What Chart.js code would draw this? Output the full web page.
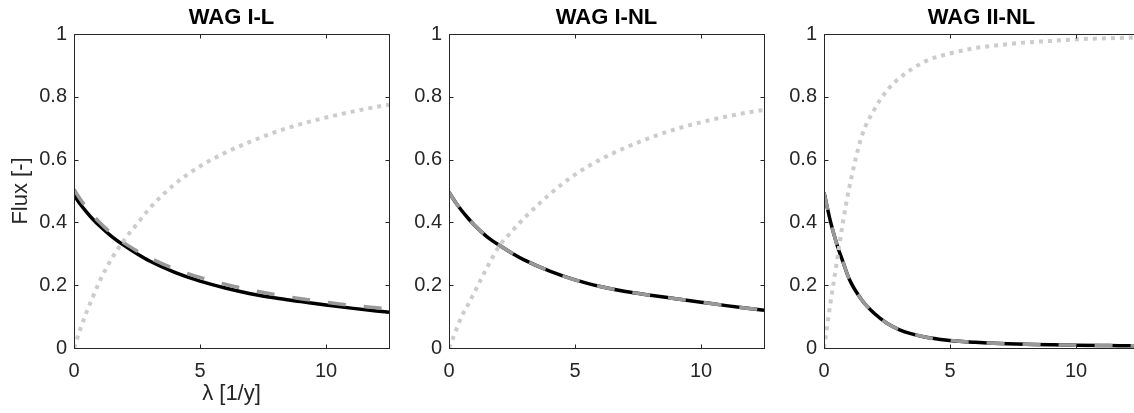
<!DOCTYPE html>
<html>
<head>
<meta charset="utf-8">
<script src="https://cdn.jsdelivr.net/npm/chart.js@4"></script>
<style>
  body { margin: 0; background: #fff; width: 1134px; height: 413px; overflow: hidden; position: relative; }
  canvas { position: absolute; top: 0; }
</style>
</head>
<body>
<canvas id="c1" width="400" height="413" style="left:0px"></canvas>
<canvas id="c2" width="400" height="413" style="left:380px"></canvas>
<canvas id="c3" width="400" height="413" style="left:760px"></canvas>
<script>
// lambda grid [1/y]
const lam = [0, 0.25, 0.5, 0.75, 1, 1.5, 2, 2.5, 3, 4, 5, 6, 7, 8, 9, 10, 11, 12, 12.5];

// WAG I-L
const ilSolid  = [0.487, 0.458, 0.433, 0.41, 0.39, 0.355, 0.326, 0.30, 0.277, 0.241, 0.213, 0.191, 0.173, 0.159, 0.148, 0.137, 0.127, 0.118, 0.114];
const ilDashed = [0.505, 0.474, 0.447, 0.423, 0.401, 0.364, 0.334, 0.309, 0.287, 0.252, 0.225, 0.203, 0.185, 0.17, 0.157, 0.146, 0.136, 0.128, 0.124];
const ilDotted = [0, 0.06, 0.115, 0.163, 0.21, 0.285, 0.345, 0.395, 0.445, 0.522, 0.579, 0.622, 0.657, 0.688, 0.713, 0.734, 0.752, 0.768, 0.775];

// WAG I-NL
const inlSolid  = [0.496, 0.465, 0.438, 0.414, 0.392, 0.355, 0.327, 0.302, 0.28, 0.245, 0.217, 0.196, 0.18, 0.168, 0.157, 0.146, 0.135, 0.125, 0.12];
const inlDashed = [0.496, 0.465, 0.438, 0.414, 0.392, 0.355, 0.327, 0.302, 0.28, 0.245, 0.217, 0.196, 0.18, 0.168, 0.157, 0.146, 0.135, 0.125, 0.12];
const inlDotted = [0, 0.05, 0.1, 0.137, 0.176, 0.255, 0.325, 0.372, 0.415, 0.49, 0.552, 0.6, 0.638, 0.67, 0.697, 0.719, 0.737, 0.752, 0.758];

// WAG II-NL
const iinlSolid  = [0.496, 0.405, 0.333, 0.275, 0.22, 0.153, 0.11, 0.079, 0.058, 0.035, 0.024, 0.018, 0.014, 0.012, 0.01, 0.009, 0.008, 0.007, 0.007];
const iinlDashed = [0.496, 0.405, 0.333, 0.275, 0.22, 0.153, 0.11, 0.079, 0.058, 0.035, 0.024, 0.018, 0.014, 0.012, 0.01, 0.009, 0.008, 0.007, 0.007];
const iinlDotted = [0, 0.14, 0.27, 0.40, 0.51, 0.675, 0.76, 0.82, 0.86, 0.912, 0.938, 0.955, 0.965, 0.973, 0.978, 0.983, 0.986, 0.988, 0.989];

const xTicks = [0, 5, 10];
const yTicks = [0, 0.2, 0.4, 0.6, 0.8, 1];
const titles = ['WAG I-L', 'WAG I-NL', 'WAG II-NL'];

const FONT = "'Liberation Sans', Arial, Helvetica, sans-serif";
const AXIS = '#262626';

function pts(ys) {
    return lam.map((x, i) => ({ x: x, y: ys[i] }));
}

// box round the plot with inward ticks on all four sides
const boxPlugin = {
    id: 'boxTicks',
    afterDatasetsDraw(chart) {
        const ctx = chart.ctx;
        const a = chart.chartArea;
        const sx = chart.scales.x, sy = chart.scales.y;
        const L = Math.round(a.left) + 0.5, R = Math.round(a.right) + 0.5;
        const T = Math.round(a.top) + 0.5, B = Math.round(a.bottom) + 0.5;
        ctx.save();
        ctx.strokeStyle = AXIS;
        ctx.lineWidth = 1;
        ctx.strokeRect(L, T, R - L, B - T);
        ctx.beginPath();
        xTicks.forEach(v => {
            const px = Math.round(sx.getPixelForValue(v)) + 0.5;
            ctx.moveTo(px, B); ctx.lineTo(px, B - 4);
            ctx.moveTo(px, T); ctx.lineTo(px, T + 4);
        });
        yTicks.forEach(v => {
            const py = Math.round(sy.getPixelForValue(v)) + 0.5;
            ctx.moveTo(L, py); ctx.lineTo(L + 4, py);
            ctx.moveTo(R, py); ctx.lineTo(R - 4, py);
        });
        ctx.stroke();
        ctx.restore();
    }
};

function makePanel(id, idx, solid, dashed, dotted, yWidth, padRight) {
    const ctx = document.getElementById(id).getContext('2d');
    const first = idx === 0;
    new Chart(ctx, {
        type: 'line',
        data: {
            datasets: [
                { data: pts(solid), borderColor: '#000000', borderWidth: 3.5, order: 3 },
                { data: pts(dashed), borderColor: '#999999', borderWidth: 3.5, borderDash: [18, 18], order: 2 },
                { data: pts(dotted), borderColor: '#cccccc', borderWidth: 4, borderDash: [4, 5], order: 1 }
            ]
        },
        options: {
            responsive: false,
            animation: false,
            devicePixelRatio: 1,
            layout: { padding: { left: 0, right: padRight, top: 0, bottom: 0 } },
            elements: {
                point: { radius: 0 },
                line: { fill: false, cubicInterpolationMode: 'monotone' }
            },
            plugins: {
                legend: { display: false },
                tooltip: { enabled: false },
                title: {
                    display: true,
                    text: titles[idx],
                    fullSize: false,
                    color: '#000000',
                    font: { family: FONT, size: 22, weight: 'bold', lineHeight: 1.2 },
                    padding: { top: 5, bottom: 2.6 }
                }
            },
            scales: {
                x: {
                    type: 'linear',
                    min: 0,
                    max: 12.5,
                    grid: { display: false, drawTicks: false },
                    border: { display: false },
                    afterBuildTicks: s => { s.ticks = xTicks.map(v => ({ value: v })); },
                    afterFit: s => { s.height = 65; },
                    ticks: {
                        color: AXIS,
                        padding: 11,
                        maxRotation: 0,
                        font: { family: FONT, size: 20 }
                    },
                    title: {
                        display: first,
                        text: 'λ [1/y]',
                        color: AXIS,
                        font: { family: FONT, size: 22 },
                        padding: { top: 0, bottom: 6 }
                    }
                },
                y: {
                    type: 'linear',
                    min: 0,
                    max: 1,
                    grid: { display: false, drawTicks: false },
                    border: { display: false },
                    afterBuildTicks: s => { s.ticks = yTicks.map(v => ({ value: v })); },
                    afterFit: s => { s.width = yWidth; },
                    ticks: {
                        color: AXIS,
                        padding: 7,
                        font: { family: FONT, size: 20 },
                        callback: v => String(v)
                    },
                    title: {
                        display: first,
                        text: 'Flux [-]',
                        color: AXIS,
                        font: { family: FONT, size: 22 },
                        padding: { top: 8, bottom: 0 }
                    }
                }
            }
        },
        plugins: [boxPlugin]
    });
}

makePanel('c1', 0, ilSolid, ilDashed, ilDotted, 74, 11);
makePanel('c2', 1, inlSolid, inlDashed, inlDotted, 69, 16);
makePanel('c3', 2, iinlSolid, iinlDashed, iinlDotted, 64, 21);
</script>
</body>
</html>
